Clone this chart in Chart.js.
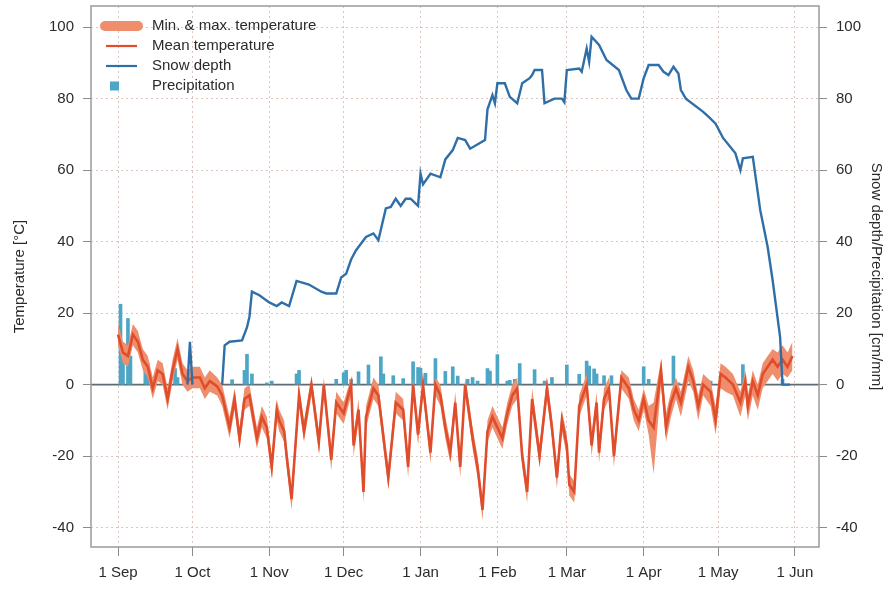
<!DOCTYPE html>
<html>
<head>
<meta charset="utf-8">
<script src="https://cdn.jsdelivr.net/npm/chart.js@4.4.1/dist/chart.umd.min.js"></script>
<style>
html,body{margin:0;padding:0;background:#fff;}
#wrap{width:888px;height:594px;}
</style>
</head>
<body>
<div id="wrap"><canvas id="c" width="888" height="594"></canvas></div>
<script>
// ---- axis ticks ----
const dayTicks = [0, 30, 61, 91, 122, 153, 181, 212, 242, 273];
const dayLabels = ['1 Sep','1 Oct','1 Nov','1 Dec','1 Jan','1 Feb','1 Mar','1 Apr','1 May','1 Jun'];
const yTicks = [-40, -20, 0, 20, 40, 60, 80, 100];
const legendLabels = ['Min. & max. temperature','Mean temperature','Snow depth','Precipitation'];

// ---- temperature (days since 1 Sep) ----
const tempDays = [0,2,4,6,8,10,12,14,16,18,20,22,24,26,28,30,33,35,37,40,42,45,47,49,51,53,56,58,60,62,64,65,67,68,70,73,75,78,81,83,86,88,91,94,95,97,99,100,103,105,109,112,115,117,119,121,123,126,128,130,132,134,136,138,140,143,145,147,149,151,153,155,157,159,161,163,165,167,170,173,175,177,179,181,182,184,186,189,191,193,194,196,198,200,203,206,208,210,212,214,216,219,221,223,225,227,230,232,234,236,239,241,243,245,248,251,253,254,256,258,260,262,264,266,268,270,272];
const tempMean = [14,9,8,14,12,7,5,-1,4,3,-4,4,10,3,1,2,2,-1,1,-0.5,-3,-12,-4,-15,-4,-3,-15,-9,-12,-23,-7,-10,-13,-20,-32,-3,-13,0,-16,0,-21,-5,-8,0,-17,-7,-30,-9,-1,-3,-26,-5,-7,-23,0,-14,0,-19,0,-3,-12,-19,-5,-23,0,-15,-23,-35,-13,-9,-12,-15,-8,-3,-1,-20,-30,-4,-20,-1,-12,-26,-10,-17,-28,-30,-6,0,-17,-5,-19,-4,-1,-20,2,-1,-7,-10,-4,-10,-12,4,-12,-5,-1,-5,5,1,-6,0,-2,-10,3,2,0,-5,1,-6,1,-3,3,5,7,5,7,5,8];
const tempMin = [11,6,5,11,9,4,2,-4,1,0,-7,1,7,0,-2,-1,-1,-4,-2,-3,-6,-15,-7,-18,-7,-6,-18,-12,-15,-26,-10,-13,-16,-23,-35,-6,-16,-3,-19,-3,-24,-8,-11,-3,-20,-10,-33,-12,-4,-6,-29,-8,-10,-26,-3,-17,-3,-22,-3,-6,-15,-22,-8,-26,-3,-18,-26,-38,-16,-12,-15,-18,-11,-6,-4,-23,-33,-7,-23,-4,-15,-29,-13,-20,-31,-33,-9,-3,-20,-8,-22,-7,-4,-23,-1,-4,-10,-13,-7,-14,-25,0,-16,-9,-4,-9,1,-2,-10,-3,-6,-14,-1,-2,-3,-9,-3,-10,-3,-7,-1,1,3,1,3,2,4];
const tempMax = [17,12,11,17,15,10,8,2,7,6,-1,7,13,6,4,5,5,2,4,2,0,-9,-1,-12,-1,0,-12,-6,-9,-20,-4,-7,-10,-17,-29,0,-10,2,-13,2,-18,-2,-5,2,-14,-4,-27,-6,2,0,-23,-2,-4,-20,2,-11,2,-16,2,0,-9,-16,-2,-20,2,-12,-20,-32,-10,-6,-9,-12,-5,0,2,-17,-27,-1,-17,2,-9,-23,-7,-14,-25,-27,-3,3,-14,-2,-16,-1,2,-17,4,2,-4,-7,-1,-6,-5,7,-8,-2,2,-2,8,4,-3,3,1,-6,6,5,3,-2,4,-3,4,0,6,8,10,9,11,9,12];

// ---- snow depth (cm) ----
const snowDays = [28,29,30,31,42,43,45,50,52,53,54,57,61,64,66,69,72,77,82,84,88,90,92,94,96,100,103,105,108,110,112,114,116,118,121,122,123,126,130,132,135,137,140,142,148,149,151,152,153,156,158,161,163,166,167,168,171,172,176,179,180,181,186,187,189,190,191,194,197,202,205,207,210,212,214,218,220,222,224,226,227,229,236,238,241,244,249,251,252,256,259,262,264,267,268,271];
const snowDepth = [0,12,0,null,0,11,12,12.4,16,19,26,25,23,22,23,22,29,28,26,25.5,25.5,30,31,35,37.6,41.3,42.3,40.4,49.3,49.7,52,50,52,52,50,59,56,59,58,63,65.6,69,68.4,66,68.4,77,81,78.7,84.3,84.3,80.5,78.7,84.3,85.7,86.6,88,88,78.7,80,80,79,88,88.4,87.5,94,90.3,97.3,95,90.8,88,82.4,80,80,85.7,89.4,89.4,87.5,86.6,88.9,87,82.4,80,76.3,75,73,69,64.7,60,63.3,63.7,48.8,38.5,29.2,13.4,0,0];

// ---- precipitation (mm) ----
const precipDays = [1,2,4,5,11,12,23,24,46,51,52,54,60,62,72,73,88,91,92,94,97,101,106,107,111,115,119,121,122,124,128,132,135,137,141,143,145,149,150,153,157,158,160,162,168,172,175,181,186,189,190,192,193,196,199,212,214,224,226,236,239,245,252,256,268];
const precipMm = [22.5,9,18.5,8,4,6,4.5,2,1.4,4,8.5,3,0.5,1,3,4,1.5,3.3,4,1.5,3.6,5.5,7.8,3,2.5,1.7,6.4,4.8,4.6,3.2,7.3,3.7,5,2.4,1.5,2,1,4.5,3.8,8.4,1,1.2,1.5,5.9,4.2,1,2,5.5,2.9,6.6,5.2,4.4,3,2.5,2.5,5,1.5,8,0.5,0.5,1,2.5,5.6,1,1.5];

const xy = (xs, ys) => xs.map((x, i) => ({x: x, y: ys[i]}));

const COL_BAND = '#ef8e6c';
const COL_MEAN = '#e04d2c';
const COL_SNOW = '#2f6fa8';
const COL_PREC = '#4ea6c6';
const FONT = '"Liberation Sans", Arial, Helvetica, sans-serif';
const TXT = '#2b2b2b';
const GRID = '#dcc5bd';

const frame = {
  id: 'frame',
  beforeDatasetsDraw(chart) {
    const {ctx, chartArea: a, scales} = chart;
    const y0 = scales.y.getPixelForValue(0);
    ctx.save();
    ctx.strokeStyle = '#5f6b70';
    ctx.lineWidth = 1.6;
    ctx.beginPath(); ctx.moveTo(a.left, y0); ctx.lineTo(a.right, y0); ctx.stroke();
    ctx.restore();
  },
  afterDraw(chart) {
    const {ctx, chartArea: a} = chart;
    ctx.save();
    ctx.strokeStyle = '#9a9a9a';
    ctx.lineWidth = 1.5;
    ctx.strokeRect(a.left, a.top, a.right - a.left, a.bottom - a.top);
    // legend
    ctx.font = '15px ' + FONT;
    ctx.fillStyle = TXT;
    ctx.textBaseline = 'middle';
    ctx.textAlign = 'left';
    const tx = 152, rows = [26, 46, 66, 86];
    ctx.lineCap = 'round';
    ctx.strokeStyle = COL_BAND; ctx.lineWidth = 10;
    ctx.beginPath(); ctx.moveTo(105, rows[0]); ctx.lineTo(138, rows[0]); ctx.stroke();
    ctx.lineCap = 'butt';
    ctx.strokeStyle = COL_MEAN; ctx.lineWidth = 2.2;
    ctx.beginPath(); ctx.moveTo(106, rows[1]); ctx.lineTo(137, rows[1]); ctx.stroke();
    ctx.strokeStyle = COL_SNOW; ctx.lineWidth = 2.2;
    ctx.beginPath(); ctx.moveTo(106, rows[2]); ctx.lineTo(137, rows[2]); ctx.stroke();
    ctx.fillStyle = COL_PREC;
    ctx.fillRect(110, rows[3] - 4.5, 9, 9);
    ctx.fillStyle = TXT;
    legendLabels.forEach((t, i) => ctx.fillText(t, tx, rows[i]));
    ctx.restore();
  }
};

const yScaleBase = {
  type: 'linear',
  min: -45.4,
  max: 105.9,
  afterBuildTicks: s => { s.ticks = yTicks.map(v => ({value: v})); },
  ticks: { color: TXT, font: {family: FONT, size: 15}, padding: 9 },
  border: { display: false, dash: [2, 3] },
};

new Chart(document.getElementById('c'), {
  type: 'line',
  data: {
    datasets: [
      { type: 'bar', label: legendLabels[3], data: xy(precipDays, precipMm), yAxisID: 'y2',
        backgroundColor: COL_PREC, barThickness: 3, grouped: false, order: 5 },
      { label: 'min', data: xy(tempDays, tempMin), yAxisID: 'y', borderWidth: 0, pointRadius: 0,
        borderColor: COL_BAND, backgroundColor: COL_BAND, fill: false, order: 4 },
      { label: legendLabels[0], data: xy(tempDays, tempMax), yAxisID: 'y', borderWidth: 0, pointRadius: 0,
        borderColor: COL_BAND, backgroundColor: COL_BAND, fill: '-1', order: 3 },
      { label: legendLabels[1], data: xy(tempDays, tempMean), yAxisID: 'y', borderWidth: 2.6, pointRadius: 0,
        borderColor: COL_MEAN, fill: false, order: 2 },
      { label: legendLabels[2], data: xy(snowDays, snowDepth), yAxisID: 'y2', borderWidth: 2.4, pointRadius: 0,
        borderColor: COL_SNOW, fill: false, spanGaps: false, order: 1 }
    ]
  },
  options: {
    responsive: false,
    devicePixelRatio: 1,
    animation: false,
    events: [],
    layout: { padding: { left: 0, right: 0, top: 6, bottom: 0 } },
    plugins: { legend: { display: false }, tooltip: { enabled: false } },
    scales: {
      x: {
        type: 'linear',
        offset: false,
        min: -10.9,
        max: 282.7,
        afterBuildTicks: s => { s.ticks = dayTicks.map(v => ({value: v})); },
        afterFit: s => { s.height = 47; s.paddingLeft = 0; s.paddingRight = 0; },
        ticks: { color: TXT, font: {family: FONT, size: 15}, padding: 8, maxRotation: 0,
          callback: v => dayLabels[dayTicks.indexOf(v)] },
        grid: { offset: false, color: GRID, lineWidth: 1, tickLength: 9, tickColor: '#8a8a8a', tickWidth: 1 },
        border: { display: false, dash: [2, 3] }
      },
      y: Object.assign({}, yScaleBase, {
        position: 'left',
        afterFit: s => { s.width = 91; s.paddingTop = 0; s.paddingBottom = 0; },
        title: { display: true, text: 'Temperature [°C]', color: TXT, font: {family: FONT, size: 15}, padding: {top: 11} },
        grid: { color: GRID, lineWidth: 1, tickLength: 8, tickColor: '#8a8a8a', tickWidth: 1 }
      }),
      y2: Object.assign({}, yScaleBase, {
        position: 'right',
        afterFit: s => { s.width = 69; s.paddingTop = 0; s.paddingBottom = 0; },
        title: { display: true, text: 'Snow depth/Precipitation [cm/mm]', color: TXT, font: {family: FONT, size: 15}, padding: {top: 3} },
        grid: { drawOnChartArea: false, tickLength: 8, tickColor: '#8a8a8a', tickWidth: 1 }
      })
    }
  },
  plugins: [frame]
});
</script>
</body>
</html>
